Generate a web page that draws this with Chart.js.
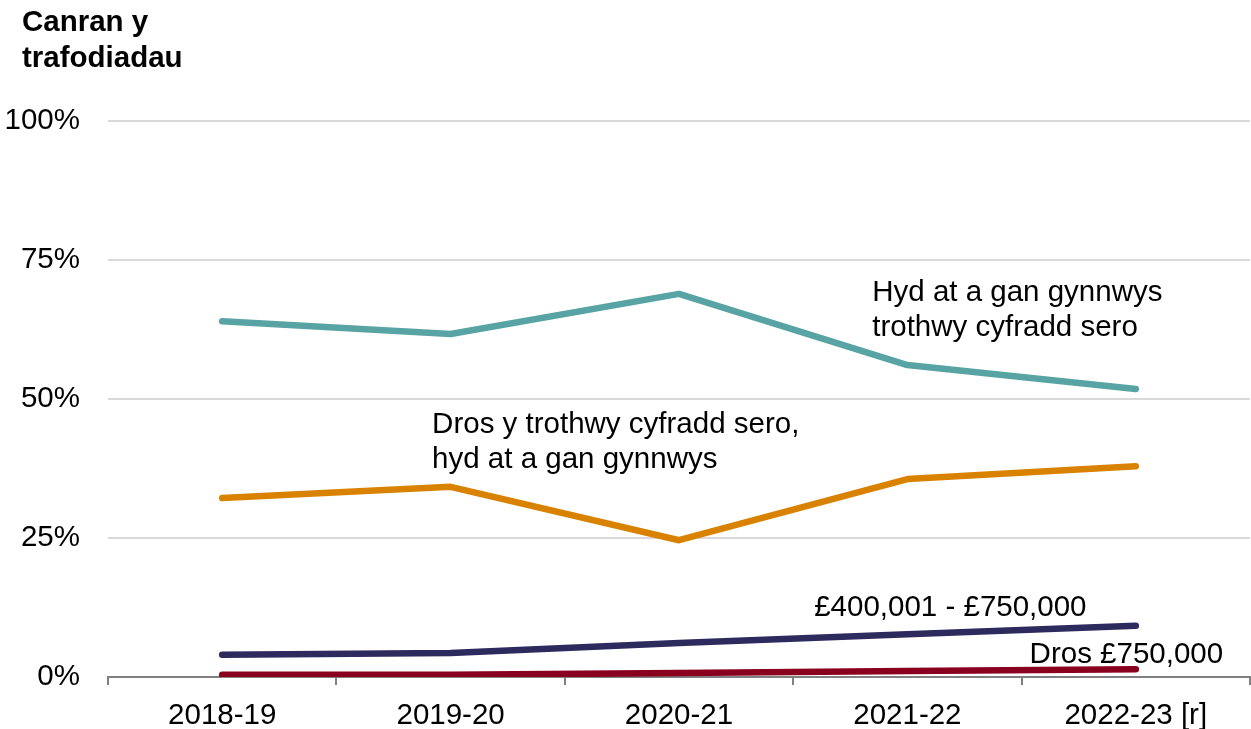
<!DOCTYPE html>
<html>
<head>
<meta charset="utf-8">
<script src="https://cdn.jsdelivr.net/npm/chart.js@4"></script>
<style>
  html, body { margin: 0; padding: 0; background: #ffffff; }
  #wrap { width: 1251px; height: 729px; position: relative; }
</style>
</head>
<body>
<div id="wrap"><canvas id="c"></canvas></div>
<script>
// ---- Data ----
const categories = ['2018-19', '2019-20', '2020-21', '2021-22', '2022-23 [r]'];
const upToZeroRate = [64.0, 61.7, 68.9, 56.1, 51.8];      // Hyd at a gan gynnwys trothwy cyfradd sero
const overZeroRate = [32.2, 34.2, 24.6, 35.6, 37.9];      // Dros y trothwy cyfradd sero, hyd at a gan gynnwys
const band400to750 = [4.0, 4.3, 6.1, 7.7, 9.2];           // £400,001 - £750,000
const over750 = [0.4, 0.4, 0.7, 1.1, 1.4];                // Dros £750,000
const yTickValues = [0, 25, 50, 75, 100];
const titleLines = ['Canran y', 'trafodiadau'];
const seriesNames = [
  'Hyd at a gan gynnwys trothwy cyfradd sero',
  'Dros y trothwy cyfradd sero, hyd at a gan gynnwys',
  '£400,001 - £750,000',
  'Dros £750,000'
];
// label lines and anchor (category index, value) for direct labels
const labelLines = [
  ['Hyd at a gan gynnwys', 'trothwy cyfradd sero'],
  ['Dros y trothwy cyfradd sero,', 'hyd at a gan gynnwys'],
  ['£400,001 - £750,000'],
  ['Dros £750,000']
];
const labelAnchors = [[2.846, 67.6], [0.919, 43.8], [2.592, 10.9], [3.535, 2.6]];

const FONT = "'Liberation Sans', Arial, Helvetica, sans-serif";
const FS = 29.5;
const colors = ['#58a3a3', '#d98200', '#2d2a5e', '#8a001f'];

const annotationPlugin = {
  id: 'annot',
  afterDraw(chart) {
    const ctx = chart.ctx;
    const xs = chart.scales.x, ys = chart.scales.y;
    ctx.save();
    // title
    ctx.fillStyle = '#000000';
    ctx.font = 'bold ' + FS + 'px ' + FONT;
    ctx.textAlign = 'left';
    ctx.textBaseline = 'alphabetic';
    ctx.fillText(titleLines[0], 22, 31);
    ctx.fillText(titleLines[1], 22, 67);
    // direct labels
    ctx.font = FS + 'px ' + FONT;
    labelLines.forEach((lines, i) => {
      const px = xs.getPixelForValue(labelAnchors[i][0]);
      const py = ys.getPixelForValue(labelAnchors[i][1]);
      lines.forEach((t, j) => ctx.fillText(t, px, py + j * 35));
    });
    ctx.restore();
  }
};

const mk = (label, data, color) => ({
  label, data,
  borderColor: color,
  backgroundColor: color,
  borderWidth: 6.5,
  borderCapStyle: 'round',
  borderJoinStyle: 'round',
  pointRadius: 0,
  pointHoverRadius: 0,
  tension: 0,
  fill: false
});

new Chart(document.getElementById('c'), {
  type: 'line',
  data: {
    labels: categories,
    datasets: [
      mk(seriesNames[0], upToZeroRate, colors[0]),
      mk(seriesNames[1], overZeroRate, colors[1]),
      mk(seriesNames[2], band400to750, colors[2]),
      mk(seriesNames[3], over750, colors[3])
    ]
  },
  options: {
    responsive: true,
    maintainAspectRatio: false,
    animation: false,
    layout: { padding: { top: 121, right: 1, bottom: 0, left: 0 } },
    plugins: {
      legend: { display: false },
      title: { display: false },
      tooltip: { enabled: false }
    },
    scales: {
      x: {
        type: 'category',
        offset: true,
        grid: {
          offset: true,
          drawOnChartArea: false,
          drawTicks: true,
          tickLength: 8,
          color: '#808080',
          lineWidth: 2
        },
        border: { display: true, color: '#808080', width: 2 },
        ticks: {
          color: '#000000',
          font: { family: FONT, size: FS },
          padding: 13,
          maxRotation: 0,
          autoSkip: false
        },
        afterFit(scale) { scale.height = 52; }
      },
      y: {
        min: 0,
        max: 100,
        afterBuildTicks(scale) { scale.ticks = yTickValues.map(v => ({ value: v })); },
        grid: {
          color: '#d9d9d9',
          lineWidth: 2,
          drawTicks: false
        },
        border: { display: false },
        ticks: {
          color: '#000000',
          font: { family: FONT, size: FS },
          padding: 28,
          callback: v => v + '%'
        },
        afterFit(scale) { scale.width = 108; }
      }
    }
  },
  plugins: [annotationPlugin]
});
</script>
</body>
</html>
